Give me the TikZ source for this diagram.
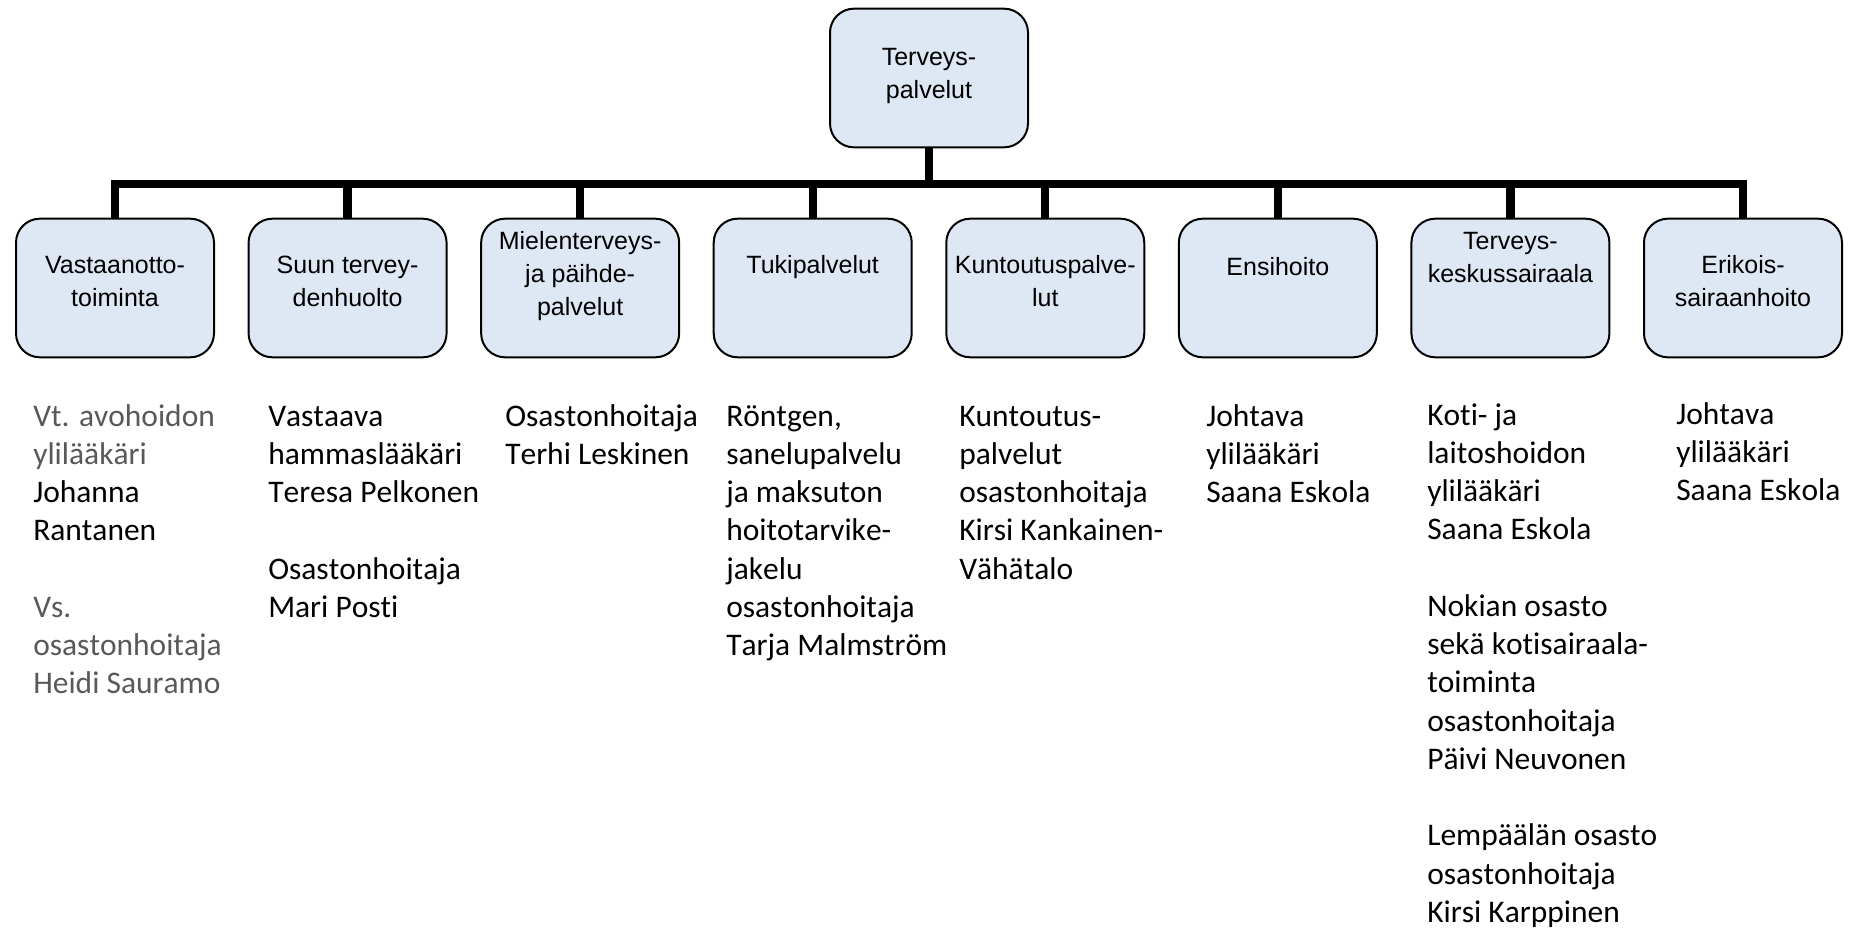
\documentclass[tikz,border=0pt]{standalone}
\usepackage{fontspec}
\setmainfont{Carlito}[Ligatures=NoCommon, Kerning=Off]
\newfontfamily\boxfont{Liberation Sans}
\usetikzlibrary{positioning}
\definecolor{unitfill}{HTML}{DDE8F4}
\definecolor{mutedgray}{HTML}{595959}
\newcommand\muted[1]{\textcolor{mutedgray}{#1}}

\tikzset{
  unitbox/.style={draw, line width=1.5pt, fill=unitfill, rounded corners=18pt,
    minimum width=148.5pt, minimum height=104pt, inner sep=0pt},
  unittext/.style={font=\boxfont\fontsize{18.75}{24.9}\selectfont, align=center, inner sep=0pt},
  staff/.style={font=\fontsize{23.6}{28.7}\selectfont, align=left, inner sep=0pt, anchor=north west},
  conn/.style={line width=6.3pt}
}

\begin{document}
\begin{tikzpicture}[x=0.75pt, y=-0.75pt]
    \useasboundingbox (0,0) rectangle (1849,931);
    % top unit
    \node[unitbox] (top) at (929,78) {};
    \node[unittext, below=25.5pt of top.north] (top-t) {\strut Terveys-\\palvelut};
    % units
    \foreach \i/\gap/\txt in {1/24pt/{Vastaanotto-\\toiminta}, 2/24pt/{Suun tervey-\\denhuolto},
        3/6pt/{Mielenterveys-\\ja päihde-\\palvelut}, 4/24pt/{Tukipalvelut},
        5/24pt/{Kuntoutuspalve-\\lut}, 6/25.5pt/{Ensihoito},
        7/6pt/{Terveys-\\keskussairaala}, 8/24pt/{Erikois-\\sairaanhoito}}{
      \node[unitbox] (b\i) at ({115+232.57*(\i-1)},288) {};
      \node[unittext, below=\gap of b\i.north] (b\i-t) {\strut\txt};
    }
    % connectors
    \coordinate (junc) at (929,184);
    \draw[conn] (top.south) -- (junc);
    \foreach \i in {1,...,8}
      \draw[conn] (junc) -| (b\i.north);
    % staff
    \node[staff] (s1) at (33,399) {\strut\muted{Vt. avohoidon}\\\muted{ylilääkäri}\\Johanna\\Rantanen\\[28.7pt]
      \muted{Vs.}\\\muted{osastonhoitaja}\\\muted{Heidi Sauramo}};
    \node[staff] (s2) at (268,399) {\strut Vastaava\\hammaslääkäri\\Teresa Pelkonen\\[28.7pt]Osastonhoitaja\\Mari Posti};
    \node[staff] (s3) at (505,399) {\strut Osastonhoitaja\\Terhi Leskinen};
    \node[staff] (s4) at (726,399) {\strut Röntgen,\\sanelupalvelu\\ja maksuton\\hoitotarvike-\\jakelu\\osastonhoitaja\\Tarja Malmström};
    \node[staff] (s5) at (959,399) {\strut Kuntoutus-\\palvelut\\osastonhoitaja\\Kirsi Kankainen-\\Vähätalo};
    \node[staff] (s6) at (1206,399) {\strut Johtava\\ylilääkäri\\Saana Eskola};
    \node[staff] (s7) at (1427,398) {\strut Koti- ja\\laitoshoidon\\ylilääkäri\\Saana Eskola\\[28.7pt]
      Nokian osasto\\sekä kotisairaala-\\toiminta\\osastonhoitaja\\Päivi Neuvonen\\[28.7pt]
      Lempäälän osasto\\osastonhoitaja\\Kirsi Karppinen};
    \node[staff] (s8) at (1676,397) {\strut Johtava\\ylilääkäri\\Saana Eskola};
\end{tikzpicture}
\end{document}
